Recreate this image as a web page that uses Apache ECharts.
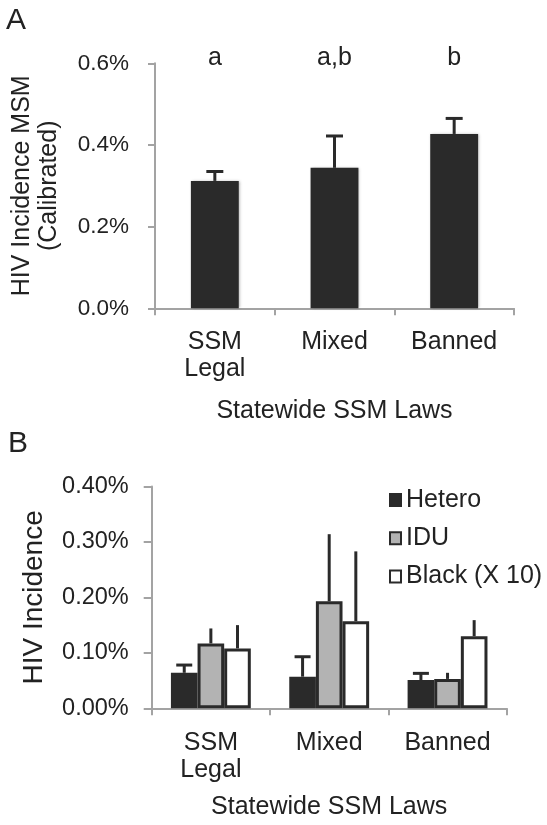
<!DOCTYPE html>
<html>
<head>
<meta charset="utf-8">
<script src="https://cdn.jsdelivr.net/npm/echarts@6/dist/echarts.min.js"></script>
<style>
html,body{margin:0;padding:0;background:#fff;}
#chart{width:547px;height:825px;}
</style>
</head>
<body>
<div id="chart"></div>
<script>
// ---------- data ----------
const categories = ['SSM\nLegal', 'Mixed', 'Banned'];
const yTicksA = [0, 0.2, 0.4, 0.6];          // % (calibrated MSM)
const yTicksB = [0, 0.1, 0.2, 0.3, 0.4];     // %
const msmValues = [0.312, 0.344, 0.427];
const msmUpper  = [0.335, 0.422, 0.465];
const sigLetters = ['a', 'a,b', 'b'];
const heteroValues = [0.064, 0.057, 0.051];
const heteroUpper  = [0.078, 0.093, 0.063];
const iduValues    = [0.117, 0.193, 0.053];
const iduUpper     = [0.144, 0.314, 0.064];
const blackValues  = [0.108, 0.157, 0.130];
const blackUpper   = [0.150, 0.283, 0.159];
const seriesNamesB = ['Hetero', 'IDU', 'Black (X 10)'];
const xTitle = 'Statewide SSM Laws';

// ---------- styling ----------
const FONT = "'Liberation Sans', Arial, sans-serif";
const TXT = '#222';
const AXC = '#a3a3a3';
const DARK = '#2a2a2a';

const chart = echarts.init(document.getElementById('chart'), null, {renderer: 'canvas'});

function errRenderer(upperArr, idx, n, frac, capW) {
  return function (params, api) {
    const i = api.value(0);
    const v = api.value(1);
    const u = upperArr[i];
    const band = api.size([1, 0])[0];
    const off = (idx - (n - 1) / 2) * band * frac;
    const p0 = api.coord([i, v]);
    const p1 = api.coord([i, u]);
    const x = p0[0] + off;
    const style = {stroke: DARK, lineWidth: 3};
    const children = [{type: 'line', shape: {x1: x, y1: p0[1], x2: x, y2: p1[1]}, style: style}];
    if (capW > 0) {
      children.push({type: 'line', shape: {x1: x - capW / 2, y1: p1[1], x2: x + capW / 2, y2: p1[1]}, style: style});
    }
    return {type: 'group', children: children};
  };
}

const axisLineStyle = {color: AXC, width: 2};

function xAxisCfg(gridIndex, labelMargin, nameGap) {
  return {
    type: 'category', gridIndex: gridIndex, data: categories,
    axisLine: {show: true, lineStyle: axisLineStyle},
    axisTick: {show: true, length: 7, alignWithLabel: false, lineStyle: axisLineStyle},
    axisLabel: {interval: 0, fontSize: 25, lineHeight: 27, color: TXT, fontFamily: FONT, margin: labelMargin},
    name: xTitle, nameLocation: 'middle', nameGap: nameGap, nameMoveOverlap: false,
    nameTextStyle: {fontSize: 25, color: TXT, fontFamily: FONT},
    splitLine: {show: false}
  };
}

function yAxisCfg(gridIndex, ticks, decimals, fontSize, margin, name, nameSize, nameGap, tickLen) {
  return {
    type: 'value', gridIndex: gridIndex,
    min: ticks[0], max: ticks[ticks.length - 1], interval: ticks[1] - ticks[0],
    axisLine: {show: true, lineStyle: axisLineStyle},
    axisTick: {show: true, length: tickLen, lineStyle: axisLineStyle},
    splitLine: {show: false},
    axisLabel: {fontSize: fontSize, color: TXT, fontFamily: FONT, margin: margin,
      formatter: function (v) { return v.toFixed(decimals) + '%'; }},
    name: name, nameLocation: 'middle', nameGap: nameGap, nameRotate: 90, nameMoveOverlap: false,
    nameTextStyle: {fontSize: nameSize, lineHeight: 27, color: TXT, fontFamily: FONT, align: 'center'}
  };
}

const barFracB = 0.225;

const option = {
  animation: false,
  backgroundColor: '#ffffff',
  textStyle: {fontFamily: FONT},
  grid: [
    {left: 155, right: 33, top: 63.3, height: 245, containLabel: false, outerBoundsMode: 'none'},
    {left: 151.7, right: 40.3, top: 486.5, height: 221.8, containLabel: false, outerBoundsMode: 'none'}
  ],
  xAxis: [xAxisCfg(0, 20, 90), xAxisCfg(1, 21, 86)],
  yAxis: [
    yAxisCfg(0, yTicksA, 1, 22.5, 26, 'HIV Incidence MSM\n(Calibrated)', 25, 92, 7),
    yAxisCfg(1, yTicksB, 2, 23.5, 23, 'HIV Incidence', 28, 104, 8)
  ],
  legend: {
    data: seriesNamesB, orient: 'vertical', left: 389, top: 487.5, padding: 0,
    itemWidth: 11, itemHeight: 12, itemGap: 13.3, icon: 'rect',
    textStyle: {fontSize: 25, color: TXT, fontFamily: FONT, padding: [0, 0, 0, 0]},
    itemStyle: {borderWidth: 2}
  },
  graphic: [
    {type: 'text', left: 6, top: 6, style: {text: 'A', fontSize: 30, fill: TXT, fontFamily: FONT}},
    {type: 'text', left: 8, top: 429, style: {text: 'B', fontSize: 30, fill: TXT, fontFamily: FONT}}
  ],
  series: [
    {
      type: 'bar', name: 'MSM', xAxisIndex: 0, yAxisIndex: 0, data: msmValues,
      barWidth: '40%',
      itemStyle: {color: DARK, shadowColor: 'rgba(0,0,0,0.35)', shadowBlur: 3, shadowOffsetX: 1, shadowOffsetY: 0}
    },
    {
      type: 'custom', name: 'MSM err', xAxisIndex: 0, yAxisIndex: 0, z: 5, clip: false,
      data: msmValues.map(function (v, i) { return [i, v]; }),
      renderItem: errRenderer(msmUpper, 0, 1, 0, 17)
    },
    {
      type: 'custom', name: 'letters', xAxisIndex: 0, yAxisIndex: 0, z: 5, clip: false,
      data: sigLetters.map(function (s, i) { return [i, yTicksA[yTicksA.length - 1]]; }),
      renderItem: function (params, api) {
        const p = api.coord([api.value(0), api.value(1)]);
        return {type: 'text', x: p[0], y: p[1] + 7,
          style: {text: sigLetters[params.dataIndex], fontSize: 25, fill: TXT, fontFamily: FONT,
            align: 'center', verticalAlign: 'bottom'}};
      }
    },
    {
      type: 'bar', name: seriesNamesB[0], xAxisIndex: 1, yAxisIndex: 1, data: heteroValues,
      barWidth: '22.5%', barGap: '0%',
      itemStyle: {color: DARK, borderColor: DARK, borderWidth: 3}
    },
    {
      type: 'bar', name: seriesNamesB[1], xAxisIndex: 1, yAxisIndex: 1, data: iduValues,
      barWidth: '22.5%', barGap: '0%',
      itemStyle: {color: '#b3b3b3', borderColor: DARK, borderWidth: 3}
    },
    {
      type: 'bar', name: seriesNamesB[2], xAxisIndex: 1, yAxisIndex: 1, data: blackValues,
      barWidth: '22.5%', barGap: '0%',
      itemStyle: {color: '#ffffff', borderColor: DARK, borderWidth: 3}
    },
    {
      type: 'custom', name: 'Hetero err', xAxisIndex: 1, yAxisIndex: 1, z: 5, clip: false,
      data: heteroValues.map(function (v, i) { return [i, v]; }),
      renderItem: errRenderer(heteroUpper, 0, 3, barFracB, 16)
    },
    {
      type: 'custom', name: 'IDU err', xAxisIndex: 1, yAxisIndex: 1, z: 5, clip: false,
      data: iduValues.map(function (v, i) { return [i, v]; }),
      renderItem: errRenderer(iduUpper, 1, 3, barFracB, 0)
    },
    {
      type: 'custom', name: 'Black err', xAxisIndex: 1, yAxisIndex: 1, z: 5, clip: false,
      data: blackValues.map(function (v, i) { return [i, v]; }),
      renderItem: errRenderer(blackUpper, 2, 3, barFracB, 0)
    }
  ]
};
chart.setOption(option);
</script>
</body>
</html>
